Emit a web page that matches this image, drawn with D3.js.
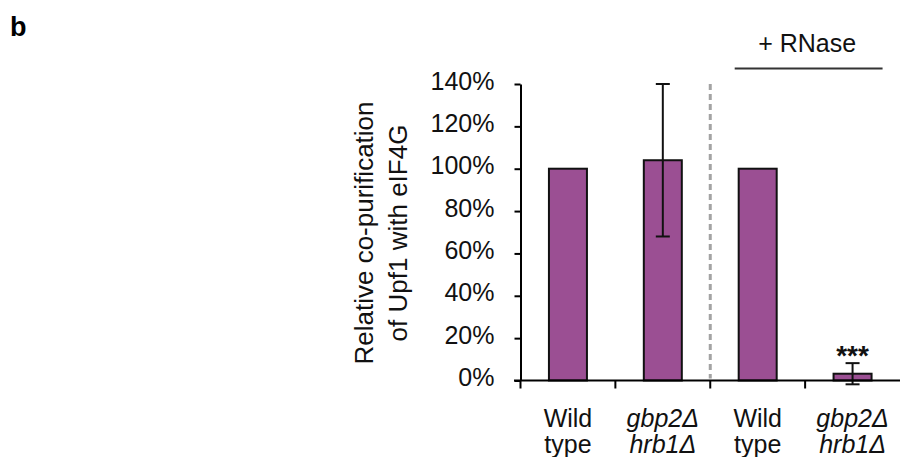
<!DOCTYPE html>
<html>
<head>
<meta charset="utf-8">
<script src="https://cdn.jsdelivr.net/npm/d3@7"></script>
<style>
  html, body { margin: 0; padding: 0; background: #fff; }
  svg { display: block; font-family: "Liberation Sans", Arial, sans-serif; }
</style>
</head>
<body>
<svg id="chart" width="901" height="457"></svg>
<script>
// Strain labels: line 1 / line 2, and whether the name is a gene (italic)
const labelLine1 = ["Wild", "gbp2\u0394", "Wild", "gbp2\u0394"];
const labelLine2 = ["type", "hrb1\u0394", "type", "hrb1\u0394"];
const labelItalic = [false, true, false, true];

// Relative co-purification (%) and error bar half-widths (%)
const values = [100, 104, 100, 3.2];
const errors = [null, 36, null, 5];
const significance = ["", "", "", "***"];

const yTicks = [0, 20, 40, 60, 80, 100, 120, 140];

const svg = d3.select("#chart");
const purple = "#9b4f93";

const y = d3.scaleLinear().domain([0, 140]).range([380.5, 84]);
const x = d3.scaleBand().domain(d3.range(values.length)).range([520.5, 900]).padding(0);
const barW = 38;
const cx = i => x(i) + x.bandwidth() / 2;

// panel letter
svg.append("text").attr("x", 10).attr("y", 36)
  .attr("font-size", 27).attr("font-weight", "bold").text("b");

// y axis
const yAxis = svg.append("g").attr("transform", "translate(520.5,0)")
  .call(d3.axisLeft(y).tickValues(yTicks).tickFormat(d => d + "%")
    .tickSize(6).tickSizeOuter(0).tickPadding(20));
yAxis.select(".domain").attr("stroke", "#000").attr("stroke-width", 2);
yAxis.selectAll(".tick line").attr("stroke", "#000").attr("stroke-width", 2);
yAxis.selectAll(".tick text").attr("font-size", 25).attr("fill", "#111")
  .attr("font-family", "\"Liberation Sans\", Arial, sans-serif").attr("dy", "0.2em");

// y axis title
const yt = svg.append("text")
  .attr("transform", `translate(0,${233}) rotate(-90)`)
  .attr("text-anchor", "middle").attr("font-size", 26).attr("fill", "#111");
yt.append("tspan").attr("x", 0).attr("y", 373).text("Relative co-purification");
yt.append("tspan").attr("x", 0).attr("y", 407).text("of Upf1 with eIF4G");

// bars
svg.selectAll("rect.bar").data(values).join("rect")
  .attr("class", "bar")
  .attr("x", (d, i) => cx(i) - barW / 2)
  .attr("width", barW)
  .attr("y", d => y(d))
  .attr("height", d => y(0) - y(d))
  .attr("fill", purple).attr("stroke", "#111").attr("stroke-width", 2);

// error bars
const eb = svg.selectAll("g.err").data(values.map((v, i) => ({ v, e: errors[i], i })).filter(d => d.e != null))
  .join("g").attr("class", "err").attr("stroke", "#111").attr("stroke-width", 2);
eb.append("line").attr("x1", d => cx(d.i)).attr("x2", d => cx(d.i))
  .attr("y1", d => y(d.v + d.e)).attr("y2", d => y(d.v - d.e));
eb.append("line").attr("x1", d => cx(d.i) - 7).attr("x2", d => cx(d.i) + 7)
  .attr("y1", d => y(d.v + d.e)).attr("y2", d => y(d.v + d.e));
eb.append("line").attr("x1", d => cx(d.i) - 7).attr("x2", d => cx(d.i) + 7)
  .attr("y1", d => y(d.v - d.e)).attr("y2", d => y(d.v - d.e));

// significance stars
svg.selectAll("text.sig").data(values.map((v, i) => ({ v, e: errors[i], s: significance[i], i })).filter(d => d.s))
  .join("text").attr("class", "sig")
  .attr("x", d => cx(d.i)).attr("y", d => y(d.v + d.e) + 2)
  .attr("text-anchor", "middle").attr("font-size", 28).attr("font-weight", "bold")
  .attr("fill", "#111").text(d => d.s);

// x axis line and category separators
svg.append("line").attr("x1", 514).attr("x2", 900).attr("y1", y(0)).attr("y2", y(0))
  .attr("stroke", "#000").attr("stroke-width", 2);
svg.selectAll("line.sep").data(d3.range(values.length))
  .join("line").attr("class", "sep")
  .attr("x1", i => x(i)).attr("x2", i => x(i))
  .attr("y1", y(0)).attr("y2", y(0) + 8)
  .attr("stroke", "#000").attr("stroke-width", 2);

// divider between untreated and RNase-treated samples
svg.append("line").attr("x1", x(2)).attr("x2", x(2))
  .attr("y1", y(140)).attr("y2", y(0) - 2)
  .attr("stroke", "#a3a3a3").attr("stroke-width", 3).attr("stroke-dasharray", "6,4");

// + RNase bracket
svg.append("line").attr("x1", cx(2) - 23).attr("x2", cx(3) + 30)
  .attr("y1", 68.5).attr("y2", 68.5).attr("stroke", "#333").attr("stroke-width", 2);
svg.append("text").attr("x", (cx(2) + cx(3)) / 2 + 2).attr("y", 52)
  .attr("text-anchor", "middle").attr("font-size", 25).attr("fill", "#111").text("+ RNase");

// category labels
const lab = svg.selectAll("text.cat").data(d3.range(values.length)).join("text")
  .attr("class", "cat").attr("text-anchor", "middle").attr("font-size", 25).attr("fill", "#111")
  .attr("font-style", i => labelItalic[i] ? "italic" : "normal");
lab.append("tspan").attr("x", i => cx(i)).attr("y", 427).text(i => labelLine1[i]);
lab.append("tspan").attr("x", i => cx(i)).attr("y", 453).text(i => labelLine2[i]);
</script>
</body>
</html>
